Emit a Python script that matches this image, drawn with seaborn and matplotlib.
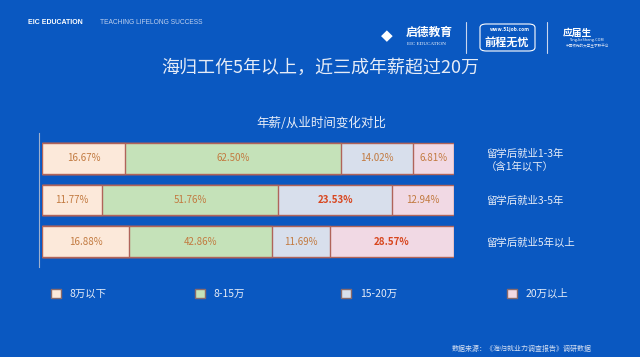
import numpy as np
import pandas as pd
import matplotlib
matplotlib.use("Agg")
import matplotlib.pyplot as plt
import seaborn as sns
from matplotlib.patches import Patch, FancyBboxPatch
from matplotlib.lines import Line2D

# row labels (right side)
rows = ["留学后就业1-3年\n（含1年以下）", "留学后就业3-5年", "留学后就业5年以上"]
# salary bands
bands = ["8万以下", "8-15万", "15-20万", "20万以上"]

# printed percentages per row
pct_1_3 = [16.67, 62.50, 14.02, 6.81]
pct_3_5 = [11.77, 51.76, 23.53, 12.94]
pct_5p = [16.88, 42.86, 11.69, 28.57]

# drawn segment lengths as they appear in the picture (share of bar, %)
len_1_3 = [20.1, 52.4, 17.5, 10.0]
len_3_5 = [14.6, 42.7, 27.7, 15.0]
len_5p = [21.1, 34.7, 14.1, 30.1]

# labels printed in bold red
bold_cells = [(1, 2), (2, 3)]

BG = "#0A58C1"
band_colors = ["#FCE9DA", "#C5E2B9", "#D8DFEC", "#F1D9E4"]
EDGE = "#B0645A"
TXT = "#C27A40"
TXT_BOLD = "#D8461E"
WHITE = "#E6ECF7"

W, H = 640, 357


def px(x, y):
    return x / W, 1 - y / H


sns.set_theme(style="white")
plt.rcParams["font.family"] = ["Noto Sans CJK SC", "DejaVu Sans"]

fig = plt.figure(figsize=(6.4, 3.57), dpi=100)
fig.patch.set_facecolor(BG)

ax = fig.add_axes([42 / W, 1 - 267 / H, 412 / W, 134 / H])
ax.set_facecolor(BG)

lengths = np.array([len_1_3, len_3_5, len_5p])
pcts = np.array([pct_1_3, pct_3_5, pct_5p])
cum = lengths.cumsum(axis=1)

# stacked bars: draw cumulative totals from the widest down
for i in reversed(range(len(bands))):
    df = pd.DataFrame({"row": rows, "value": cum[:, i]})
    sns.barplot(data=df, x="value", y="row", orient="h", color=band_colors[i],
                edgecolor=EDGE, linewidth=1.0, width=0.74, saturation=1, ax=ax)

# segment labels
for r in range(len(rows)):
    for i in range(len(bands)):
        xc = cum[r, i] - lengths[r, i] / 2
        bold = (r, i) in bold_cells
        ax.text(xc, r, f"{pcts[r, i]:.2f}%", ha="center", va="center",
                fontsize=7, color=TXT_BOLD if bold else TXT,
                fontweight="bold" if bold else "normal")

ax.set_xlim(0, 100)
ax.set_ylim(2.61, -0.61)
ax.set_xlabel("")
ax.set_ylabel("")
ax.set_xticks([])
ax.yaxis.set_ticks_position("right")
ax.tick_params(axis="y", length=0, pad=23, labelsize=7.5, labelcolor=WHITE)
for lbl in ax.get_yticklabels():
    lbl.set_ha("left")
for s in ["top", "right", "bottom"]:
    ax.spines[s].set_visible(False)
ax.spines["left"].set_color("#9DB0CF")
ax.spines["left"].set_linewidth(0.8)
ax.spines["left"].set_position(("outward", 2))

# titles
fig.text(*px(320, 68), "海归工作5年以上，近三成年薪超过20万", ha="center", va="center",
         fontsize=13, color=WHITE)
fig.text(*px(321, 123), "年薪/从业时间变化对比", ha="center", va="center",
         fontsize=9, color=WHITE)

# legend, one entry per slot
legend_x = [51, 195, 341, 507]
for c, name, lx in zip(band_colors, bands, legend_x):
    h = Patch(facecolor=c, edgecolor="#8A6A6A", linewidth=1.0)
    fig.legend([h], [name], loc="center left", bbox_to_anchor=px(lx, 294),
               frameon=False, fontsize=7.5, labelcolor=WHITE, handlelength=1.0,
               handleheight=1.0, handletextpad=0.8, borderaxespad=0, borderpad=0)

# header
fig.text(*px(28, 23), "EIC EDUCATION", ha="left", va="center", fontsize=5,
         fontweight="bold", color="white", family=["Liberation Sans"])
fig.text(*px(100, 23), "TEACHING LIFELONG SUCCESS", ha="left", va="center", fontsize=4.8,
         color="#BFD0EE", family=["Liberation Sans Narrow", "Liberation Sans"])
fig.text(*px(387, 36), "◆", ha="center", va="center", fontsize=11, color="white",
         family=["DejaVu Sans"])
fig.text(*px(406, 32), "启德教育", ha="left", va="center", fontsize=8.5,
         fontweight="bold", color="white")
fig.text(*px(407, 44), "EIC EDUCATION", ha="left", va="center", fontsize=3.7,
         color="white", family=["Liberation Serif"])
for xx in (466, 547):
    fig.add_artist(Line2D([xx / W, xx / W], [1 - 22 / H, 1 - 53 / H],
                          color="#C9D6EE", lw=0.8))
fig.add_artist(FancyBboxPatch(px(480, 51), 55 / W, 27 / H,
                              boxstyle="round,pad=0,rounding_size=0.01",
                              transform=fig.transFigure, facecolor="none",
                              edgecolor="white", lw=0.8))
fig.text(*px(510, 29), "www.51job.com", ha="center", va="center", fontsize=3.5,
         fontweight="bold", color="white")
fig.text(*px(507, 42), "前程无忧", ha="center", va="center", fontsize=8,
         fontweight="bold", style="italic", color="white")
fig.text(*px(577, 33), "应届生", ha="center", va="center", fontsize=7,
         fontweight="bold", color="white")
fig.text(*px(587, 40), "YingJieSheng.COM", ha="center", va="center", fontsize=2.8,
         color="white")
fig.text(*px(587, 46), "中国领先的大学生求职平台", ha="center", va="center", fontsize=2.6,
         color="#D6E0F2")

# footer
fig.text(*px(592, 349), "数据来源：《海归就业力调查报告》调研数据", ha="right", va="center",
         fontsize=5, color="#D6E0F2")

fig.savefig("out.png", dpi=100, facecolor=fig.get_facecolor())
